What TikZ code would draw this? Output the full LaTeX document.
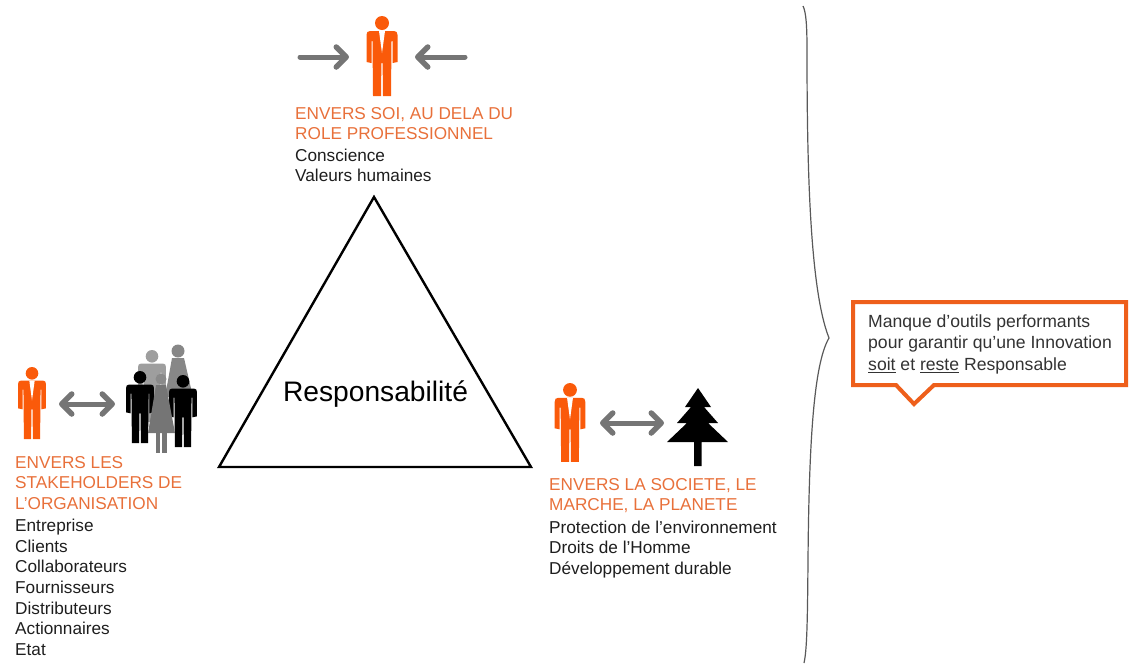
\documentclass[tikz,border=0pt]{standalone}
\usepackage{fontspec}
\setmainfont{Liberation Sans}
\usetikzlibrary{arrows.meta}
\definecolor{fig}{HTML}{FA5A0A}
\definecolor{head}{HTML}{E8703A}
\definecolor{boxc}{HTML}{EE5F1B}
\definecolor{arr}{HTML}{757575}
\definecolor{body}{HTML}{1E1E1E}
\newcommand{\sq}{\symbol{39}}
\tikzset{
  barb/.tip={Straight Barb[round,length=10pt,width=20pt,line width=5.5pt]},
  lbl/.style={anchor=north west,inner sep=0pt,align=left,font=\fontsize{17.2}{20.6}\selectfont,text=body},
  pointer/.style={arr,line width=5pt,line cap=round,{barb}-{barb}},
  pointerr/.style={arr,line width=5pt,line cap=round,-{barb}},
  pics/man/.style args={#1/#2}{code={
    \begin{scope}[scale=#2]
    \fill[#1] (0,7) circle (7);
    \fill[#1] (-12,15) -- (12,15) .. controls (14.5,15) and (15.5,16.5) .. (15.5,19) -- (15.5,46) -- (10.5,47) -- (10.5,25) -- (9.5,25) -- (9,80) -- (1,80) -- (0.6,47) -- (-0.6,47) -- (-1,80) -- (-9,80) -- (-9.5,25) -- (-10.5,25) -- (-10.5,47) -- (-15.5,46) -- (-15.5,19) .. controls (-15.5,16.5) and (-14.5,15) .. (-12,15) -- cycle;
    \fill[white] (-3,15) -- (3,15) -- (0,37) -- cycle;
    \end{scope}
  }},
  pics/plain/.style args={#1/#2}{code={
    \begin{scope}[scale=#2]
    \fill[#1] (0,7) circle (7);
    \fill[#1] (-12,15) -- (12,15) .. controls (14.5,15) and (15.5,16.5) .. (15.5,19) -- (15.5,46) -- (10.5,47) -- (10.5,25) -- (9.5,25) -- (9,80) -- (1,80) -- (0.6,47) -- (-0.6,47) -- (-1,80) -- (-9,80) -- (-9.5,25) -- (-10.5,25) -- (-10.5,47) -- (-15.5,46) -- (-15.5,19) .. controls (-15.5,16.5) and (-14.5,15) .. (-12,15) -- cycle;
    \end{scope}
  }}
}
\begin{document}
\begin{tikzpicture}[x=1pt,y=-1pt]
\useasboundingbox (0,0) rectangle (1135,665);
% top
\pic at (382,16) {man={fig/1}};
\coordinate (t1) at (300,57); \coordinate (t2) at (349,57);
\coordinate (t3) at (465,57); \coordinate (t4) at (415,57);
\draw[pointerr] (t1) -- (t2);
\draw[pointerr] (t3) -- (t4);
\node[lbl,text=head] (tophead) at (295,107) {ENVERS SOI, AU DELA DU\\ROLE PROFESSIONNEL};
\node[lbl] (toptext) at (295,148.5) {Conscience\\Valeurs humaines};
% triangle
\draw[black,line width=2.4pt,line join=miter] (374,197) -- (531,467) -- (219,467) -- cycle;
\node[font=\fontsize{28.2}{32}\selectfont,text=black] (resp) at (375.5,394) {Responsabilité};
% left
\pic at (32,367) {man={fig/0.9}};
\coordinate (l1) at (59,404); \coordinate (l2) at (115,404);
\draw[pointer] (l1) -- (l2);
\pic at (152,350) {plain={arr!70/0.9}};
\fill[arr!115!black] (178,351) circle (6.5);
\fill[arr!115!black] (172,358) -- (184,358) -- (193,397) -- (165,397) -- cycle;
\pic at (140,371) {plain={black/0.9}};
\pic at (183,375) {plain={black/0.9}};
% woman
\fill[arr!85] (161,379) circle (5.5);
\fill[arr] (156,385) -- (166,385) -- (175,433) -- (148,433) -- cycle;
\fill[arr] (155.5,430) rectangle (160,453);
\fill[arr] (162,430) rectangle (166.5,453);
\node[lbl,text=head] (lefthead) at (15,456) {ENVERS LES\\STAKEHOLDERS DE\\L\sq ORGANISATION};
\node[lbl] (lefttext) at (15,519) {Entreprise\\Clients\\Collaborateurs\\Fournisseurs\\Distributeurs\\Actionnaires\\Etat};
% right
\pic at (570,383) {man={fig/0.985}};
\coordinate (r1) at (600,423); \coordinate (r2) at (664,423);
\draw[pointer] (r1) -- (r2);
\fill[black] (698,388) -- (711,407) -- (704,407) -- (718,423) -- (708,423) -- (728,442) -- (701.5,442) -- (701.5,466) -- (694,466) -- (694,442) -- (667,442) -- (687,423) -- (677,423) -- (691,407) -- (685,407) -- cycle;
\node[lbl,text=head] (righthead) at (549,478) {ENVERS LA SOCIETE, LE\\MARCHE, LA PLANETE};
\node[lbl] (righttext) at (549,520.5) {Protection de l\sq environnement\\Droits de l\sq Homme\\Développement durable};
% brace
\draw[black!65,line width=1.2pt] (803,6) .. controls (806,12) and (807,25) .. (807,50) .. controls (807,170) and (810,290) .. (829,338) .. controls (813,365) and (809,450) .. (808,560) .. controls (807.5,620) and (807,650) .. (804,663);
% callout
\draw[boxc,line width=4pt,fill=white,line join=miter] (853,302) -- (1126,302) -- (1126,385) -- (934,385) -- (914,404) -- (896,385) -- (853,385) -- cycle;
\node[lbl,font=\fontsize{17.6}{21.5}\selectfont,text=black!80] (calltext) at (868,314.5) {Manque d'outils performants\\pour garantir qu'une Innovation\\\underline{soit} et \underline{reste} Responsable};
\end{tikzpicture}
\end{document}
